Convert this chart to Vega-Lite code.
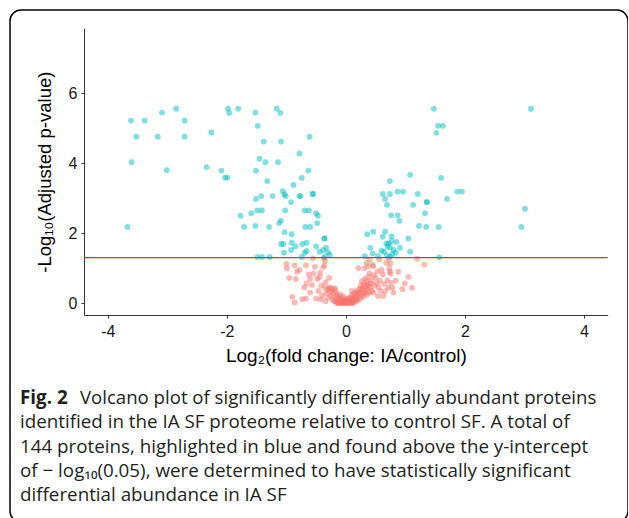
{
"$schema": "https://vega.github.io/schema/vega-lite/v6.json",
"width": 618, "height": 512,
"padding": {"left": 10, "top": 10, "right": 0, "bottom": 0},
"background": "white",
"config": {"view": {"stroke": "#000", "strokeWidth": 1.5, "cornerRadius": 11}, "font": "Liberation Sans"},
"datasets": {
"pts": [
{"fc":-1.0,"p":1.12,"s":"no"},{"fc":-0.99,"p":0.99,"s":"no"},{"fc":-0.95,"p":0.72,"s":"no"},{"fc":-0.86,"p":1.08,"s":"no"},{"fc":-0.9,"p":0.18,"s":"no"},{"fc":-0.86,"p":0.02,"s":"no"},{"fc":-0.84,"p":0.69,"s":"no"},{"fc":-0.82,"p":0.9,"s":"no"},
{"fc":-0.78,"p":0.95,"s":"no"},{"fc":-0.73,"p":0.11,"s":"no"},{"fc":-0.7,"p":0.45,"s":"no"},{"fc":-0.67,"p":1.08,"s":"no"},{"fc":-0.67,"p":0.13,"s":"no"},{"fc":-0.66,"p":0.56,"s":"no"},{"fc":-0.62,"p":0.82,"s":"no"},{"fc":-0.6,"p":0.69,"s":"no"},{"fc":-0.6,"p":0.3,"s":"no"},
{"fc":-0.57,"p":0.52,"s":"no"},{"fc":-0.55,"p":1.28,"s":"no"},{"fc":-0.54,"p":0.85,"s":"no"},{"fc":-0.52,"p":1.04,"s":"no"},{"fc":-0.5,"p":0.13,"s":"no"},{"fc":-0.48,"p":0.69,"s":"no"},{"fc":-0.46,"p":0.35,"s":"no"},{"fc":-0.44,"p":0.75,"s":"no"},{"fc":-0.43,"p":0.87,"s":"no"},{"fc":-0.42,"p":0.11,"s":"no"},{"fc":-0.41,"p":0.5,"s":"no"},{"fc":-0.4,"p":0.22,"s":"no"},
{"fc":-0.38,"p":1.03,"s":"no"},{"fc":-0.37,"p":1.28,"s":"no"},{"fc":-0.36,"p":1.08,"s":"no"},{"fc":-0.35,"p":1.21,"s":"no"},{"fc":-0.35,"p":0.45,"s":"no"},{"fc":-0.34,"p":0.6,"s":"no"},{"fc":-0.34,"p":0.05,"s":"no"},{"fc":-0.33,"p":0.28,"s":"no"},{"fc":-0.31,"p":0.38,"s":"no"},{"fc":-0.3,"p":0.15,"s":"no"},{"fc":-0.29,"p":0.42,"s":"no"},{"fc":-0.28,"p":0.72,"s":"no"},{"fc":-0.27,"p":0.3,"s":"no"},{"fc":-0.26,"p":0.45,"s":"no"},{"fc":-0.25,"p":0.2,"s":"no"},{"fc":-0.24,"p":0.42,"s":"no"},{"fc":-0.23,"p":0.35,"s":"no"},{"fc":-0.22,"p":0.1,"s":"no"},{"fc":-0.21,"p":0.28,"s":"no"},
{"fc":-0.19,"p":0.38,"s":"no"},{"fc":-0.18,"p":0.42,"s":"no"},{"fc":-0.18,"p":0.15,"s":"no"},{"fc":-0.17,"p":0.05,"s":"no"},{"fc":-0.16,"p":0.3,"s":"no"},{"fc":-0.15,"p":0.22,"s":"no"},{"fc":-0.14,"p":0.1,"s":"no"},{"fc":-0.13,"p":0.02,"s":"no"},{"fc":-0.12,"p":0.18,"s":"no"},{"fc":-0.11,"p":0.08,"s":"no"},{"fc":-0.1,"p":0.25,"s":"no"},{"fc":-0.1,"p":0.0,"s":"no"},{"fc":-0.09,"p":0.12,"s":"no"},{"fc":-0.08,"p":0.04,"s":"no"},{"fc":-0.07,"p":0.15,"s":"no"},{"fc":-0.06,"p":0.01,"s":"no"},{"fc":-0.06,"p":0.07,"s":"no"},{"fc":-0.05,"p":0.2,"s":"no"},{"fc":-0.04,"p":0.03,"s":"no"},{"fc":-0.03,"p":0.1,"s":"no"},{"fc":-0.03,"p":0.0,"s":"no"},{"fc":-0.02,"p":0.05,"s":"no"},{"fc":-0.01,"p":0.02,"s":"no"},{"fc":-0.01,"p":0.12,"s":"no"},{"fc":0.0,"p":0.0,"s":"no"},{"fc":-0.15,"p":0.0,"s":"no"},{"fc":-0.2,"p":0.05,"s":"no"},{"fc":-0.12,"p":0.0,"s":"no"},{"fc":-0.08,"p":0.0,"s":"no"},{"fc":-0.05,"p":0.0,"s":"no"},
{"fc":0.0,"p":0.06,"s":"no"},{"fc":0.01,"p":0.02,"s":"no"},{"fc":0.02,"p":0.0,"s":"no"},{"fc":0.02,"p":0.1,"s":"no"},{"fc":0.03,"p":0.04,"s":"no"},{"fc":0.04,"p":0.15,"s":"no"},{"fc":0.05,"p":0.01,"s":"no"},{"fc":0.05,"p":0.07,"s":"no"},{"fc":0.06,"p":0.03,"s":"no"},{"fc":0.07,"p":0.12,"s":"no"},{"fc":0.08,"p":0.0,"s":"no"},{"fc":0.08,"p":0.05,"s":"no"},{"fc":0.09,"p":0.2,"s":"no"},{"fc":0.1,"p":0.02,"s":"no"},{"fc":0.1,"p":0.1,"s":"no"},{"fc":0.11,"p":0.06,"s":"no"},{"fc":0.12,"p":0.15,"s":"no"},{"fc":0.12,"p":0.25,"s":"no"},{"fc":0.13,"p":0.03,"s":"no"},{"fc":0.14,"p":0.09,"s":"no"},{"fc":0.15,"p":0.18,"s":"no"},{"fc":0.15,"p":0.3,"s":"no"},{"fc":0.16,"p":0.12,"s":"no"},{"fc":0.17,"p":0.05,"s":"no"},{"fc":0.17,"p":0.22,"s":"no"},{"fc":0.18,"p":0.35,"s":"no"},{"fc":0.19,"p":0.15,"s":"no"},{"fc":0.2,"p":0.28,"s":"no"},{"fc":0.2,"p":0.08,"s":"no"},{"fc":0.05,"p":0.0,"s":"no"},{"fc":0.12,"p":0.0,"s":"no"},{"fc":0.1,"p":0.35,"s":"no"},
{"fc":0.21,"p":1.0,"s":"no"},{"fc":0.21,"p":0.2,"s":"no"},{"fc":0.22,"p":0.4,"s":"no"},{"fc":0.23,"p":0.32,"s":"no"},{"fc":0.24,"p":0.12,"s":"no"},{"fc":0.25,"p":0.25,"s":"no"},{"fc":0.25,"p":0.5,"s":"no"},{"fc":0.26,"p":0.38,"s":"no"},{"fc":0.27,"p":0.62,"s":"no"},{"fc":0.27,"p":0.2,"s":"no"},{"fc":0.28,"p":0.45,"s":"no"},{"fc":0.29,"p":0.3,"s":"no"},{"fc":0.3,"p":0.55,"s":"no"},{"fc":0.3,"p":0.18,"s":"no"},{"fc":0.31,"p":1.0,"s":"no"},{"fc":0.31,"p":0.4,"s":"no"},{"fc":0.32,"p":0.7,"s":"no"},{"fc":0.32,"p":0.28,"s":"no"},{"fc":0.33,"p":0.5,"s":"no"},{"fc":0.34,"p":0.35,"s":"no"},{"fc":0.35,"p":1.15,"s":"no"},{"fc":0.35,"p":0.62,"s":"no"},{"fc":0.36,"p":0.49,"s":"no"},{"fc":0.36,"p":0.25,"s":"no"},{"fc":0.37,"p":1.05,"s":"no"},{"fc":0.37,"p":0.42,"s":"no"},{"fc":0.38,"p":0.75,"s":"no"},{"fc":0.38,"p":0.55,"s":"no"},{"fc":0.39,"p":0.3,"s":"no"},{"fc":0.4,"p":1.25,"s":"no"},{"fc":0.4,"p":0.85,"s":"no"},
{"fc":0.41,"p":0.45,"s":"no"},{"fc":0.42,"p":0.56,"s":"no"},{"fc":0.43,"p":0.65,"s":"no"},{"fc":0.44,"p":0.35,"s":"no"},{"fc":0.45,"p":1.1,"s":"no"},{"fc":0.46,"p":1.05,"s":"no"},{"fc":0.46,"p":0.3,"s":"no"},{"fc":0.47,"p":0.8,"s":"no"},{"fc":0.48,"p":0.5,"s":"no"},{"fc":0.5,"p":0.72,"s":"no"},{"fc":0.52,"p":0.56,"s":"no"},{"fc":0.53,"p":0.9,"s":"no"},{"fc":0.54,"p":0.2,"s":"no"},{"fc":0.55,"p":0.45,"s":"no"},{"fc":0.56,"p":1.25,"s":"no"},{"fc":0.57,"p":0.64,"s":"no"},{"fc":0.58,"p":0.35,"s":"no"},{"fc":0.6,"p":0.95,"s":"no"},
{"fc":0.62,"p":0.82,"s":"no"},{"fc":0.63,"p":0.2,"s":"no"},{"fc":0.64,"p":0.55,"s":"no"},{"fc":0.66,"p":0.34,"s":"no"},{"fc":0.68,"p":1.15,"s":"no"},{"fc":0.7,"p":0.65,"s":"no"},{"fc":0.71,"p":0.44,"s":"no"},{"fc":0.72,"p":1.27,"s":"no"},{"fc":0.73,"p":1.0,"s":"no"},{"fc":0.74,"p":0.9,"s":"no"},{"fc":0.75,"p":1.14,"s":"no"},{"fc":0.75,"p":0.85,"s":"no"},{"fc":0.76,"p":0.58,"s":"no"},{"fc":0.78,"p":0.44,"s":"no"},{"fc":0.8,"p":0.3,"s":"no"},
{"fc":0.84,"p":0.64,"s":"no"},{"fc":0.88,"p":0.9,"s":"no"},{"fc":0.95,"p":0.4,"s":"no"},{"fc":0.99,"p":0.56,"s":"no"},{"fc":1.05,"p":0.75,"s":"no"},{"fc":1.11,"p":0.44,"s":"no"},{"fc":1.2,"p":1.27,"s":"no"},{"fc":1.32,"p":1.1,"s":"no"},
{"fc":-3.61,"p":5.22,"s":"yes"},{"fc":-3.38,"p":5.22,"s":"yes"},{"fc":-3.09,"p":5.45,"s":"yes"},{"fc":-2.85,"p":5.56,"s":"yes"},{"fc":-2.71,"p":5.22,"s":"yes"},{"fc":-3.52,"p":4.76,"s":"yes"},{"fc":-3.16,"p":4.76,"s":"yes"},{"fc":-2.71,"p":4.76,"s":"yes"},{"fc":-2.26,"p":4.88,"s":"yes"},{"fc":-3.6,"p":4.03,"s":"yes"},{"fc":-3.01,"p":3.8,"s":"yes"},{"fc":-3.67,"p":2.18,"s":"yes"},
{"fc":-1.98,"p":5.56,"s":"yes"},{"fc":-1.96,"p":5.44,"s":"yes"},{"fc":-1.81,"p":5.56,"s":"yes"},{"fc":-1.52,"p":5.45,"s":"yes"},{"fc":-1.16,"p":5.56,"s":"yes"},{"fc":-1.1,"p":5.44,"s":"yes"},{"fc":-1.48,"p":5.07,"s":"yes"},{"fc":-1.38,"p":4.62,"s":"yes"},{"fc":-1.09,"p":4.62,"s":"yes"},{"fc":-0.61,"p":4.76,"s":"yes"},{"fc":-0.78,"p":4.28,"s":"yes"},{"fc":-1.45,"p":4.13,"s":"yes"},{"fc":-1.35,"p":4.03,"s":"yes"},{"fc":-1.14,"p":4.03,"s":"yes"},
{"fc":-2.34,"p":3.89,"s":"yes"},{"fc":-2.09,"p":3.79,"s":"yes"},{"fc":-2.03,"p":3.59,"s":"yes"},{"fc":-1.99,"p":3.59,"s":"yes"},{"fc":-1.51,"p":3.79,"s":"yes"},{"fc":-0.63,"p":3.79,"s":"yes"},{"fc":-0.74,"p":3.58,"s":"yes"},{"fc":-1.32,"p":3.49,"s":"yes"},{"fc":-0.88,"p":3.38,"s":"yes"},{"fc":-1.06,"p":3.2,"s":"yes"},{"fc":-1.03,"p":3.11,"s":"yes"},{"fc":-1.01,"p":3.06,"s":"yes"},{"fc":-0.78,"p":3.06,"s":"yes"},{"fc":-0.76,"p":3.06,"s":"yes"},{"fc":-0.55,"p":3.12,"s":"yes"},{"fc":-0.56,"p":3.12,"s":"yes"},
{"fc":-1.42,"p":3.06,"s":"yes"},{"fc":-1.51,"p":2.98,"s":"yes"},{"fc":-1.23,"p":3.06,"s":"yes"},{"fc":-0.92,"p":2.89,"s":"yes"},{"fc":-1.49,"p":2.65,"s":"yes"},{"fc":-1.41,"p":2.65,"s":"yes"},{"fc":-1.02,"p":2.65,"s":"yes"},{"fc":-0.69,"p":2.65,"s":"yes"},{"fc":-0.62,"p":2.65,"s":"yes"},{"fc":-0.5,"p":2.57,"s":"yes"},{"fc":-0.47,"p":2.5,"s":"yes"},{"fc":-1.77,"p":2.5,"s":"yes"},{"fc":-1.59,"p":2.57,"s":"yes"},{"fc":-1.09,"p":2.36,"s":"yes"},{"fc":-1.12,"p":2.29,"s":"yes"},
{"fc":-1.71,"p":2.18,"s":"yes"},{"fc":-1.52,"p":2.21,"s":"yes"},{"fc":-1.29,"p":2.18,"s":"yes"},{"fc":-0.68,"p":2.18,"s":"yes"},{"fc":-0.6,"p":2.18,"s":"yes"},{"fc":-0.48,"p":2.29,"s":"yes"},{"fc":-1.03,"p":2.03,"s":"yes"},{"fc":-0.91,"p":1.97,"s":"yes"},{"fc":-1.09,"p":1.69,"s":"yes"},{"fc":-1.05,"p":1.69,"s":"yes"},{"fc":-0.91,"p":1.73,"s":"yes"},{"fc":-0.73,"p":1.69,"s":"yes"},{"fc":-0.66,"p":1.73,"s":"yes"},{"fc":-0.36,"p":1.85,"s":"yes"},{"fc":-0.36,"p":1.85,"s":"yes"},
{"fc":-0.38,"p":1.52,"s":"yes"},{"fc":-0.33,"p":1.58,"s":"yes"},{"fc":-0.44,"p":1.47,"s":"yes"},{"fc":-0.92,"p":1.52,"s":"yes"},{"fc":-1.04,"p":1.44,"s":"yes"},{"fc":-0.69,"p":1.44,"s":"yes"},{"fc":-0.66,"p":1.49,"s":"yes"},{"fc":-0.27,"p":1.38,"s":"yes"},{"fc":-0.36,"p":1.33,"s":"yes"},{"fc":-1.49,"p":1.32,"s":"yes"},{"fc":-1.41,"p":1.32,"s":"yes"},{"fc":-1.28,"p":1.32,"s":"yes"},{"fc":-0.74,"p":1.32,"s":"yes"},
{"fc":1.48,"p":5.56,"s":"yes"},{"fc":3.11,"p":5.56,"s":"yes"},{"fc":1.55,"p":5.07,"s":"yes"},{"fc":1.63,"p":5.07,"s":"yes"},{"fc":1.52,"p":4.87,"s":"yes"},{"fc":1.08,"p":3.67,"s":"yes"},{"fc":0.74,"p":3.49,"s":"yes"},{"fc":1.6,"p":3.58,"s":"yes"},{"fc":0.62,"p":3.12,"s":"yes"},{"fc":0.74,"p":3.12,"s":"yes"},{"fc":0.87,"p":3.19,"s":"yes"},{"fc":0.96,"p":3.19,"s":"yes"},{"fc":1.21,"p":3.12,"s":"yes"},
{"fc":0.66,"p":2.98,"s":"yes"},{"fc":0.69,"p":2.81,"s":"yes"},{"fc":1.13,"p":2.81,"s":"yes"},{"fc":1.36,"p":2.89,"s":"yes"},{"fc":1.36,"p":2.89,"s":"yes"},{"fc":1.7,"p":2.98,"s":"yes"},{"fc":1.87,"p":3.19,"s":"yes"},{"fc":1.95,"p":3.19,"s":"yes"},{"fc":3.01,"p":2.7,"s":"yes"},{"fc":2.95,"p":2.18,"s":"yes"},{"fc":0.76,"p":2.51,"s":"yes"},{"fc":0.87,"p":2.51,"s":"yes"},{"fc":0.9,"p":2.35,"s":"yes"},{"fc":1.33,"p":2.57,"s":"yes"},
{"fc":1.23,"p":2.21,"s":"yes"},{"fc":1.35,"p":2.18,"s":"yes"},{"fc":1.56,"p":2.18,"s":"yes"},{"fc":0.36,"p":1.97,"s":"yes"},{"fc":0.46,"p":2.04,"s":"yes"},{"fc":0.62,"p":1.9,"s":"yes"},{"fc":0.66,"p":2.04,"s":"yes"},{"fc":0.77,"p":1.91,"s":"yes"},{"fc":1.05,"p":1.85,"s":"yes"},{"fc":0.41,"p":1.58,"s":"yes"},{"fc":0.68,"p":1.71,"s":"yes"},{"fc":0.72,"p":1.71,"s":"yes"},{"fc":0.77,"p":1.77,"s":"yes"},
{"fc":0.74,"p":1.6,"s":"yes"},{"fc":0.8,"p":1.52,"s":"yes"},{"fc":0.91,"p":1.58,"s":"yes"},{"fc":0.64,"p":1.47,"s":"yes"},{"fc":0.84,"p":1.44,"s":"yes"},{"fc":1.08,"p":1.47,"s":"yes"},{"fc":0.54,"p":1.35,"s":"yes"},{"fc":0.69,"p":1.37,"s":"yes"},{"fc":0.74,"p":1.33,"s":"yes"},{"fc":0.32,"p":1.34,"s":"yes"},{"fc":1.57,"p":1.31,"s":"yes"},
{"fc":0.7,"p":1.62,"s":"yes"},{"fc":0.6,"p":1.5,"s":"yes"},{"fc":0.78,"p":1.4,"s":"yes"},{"fc":-0.5,"p":1.62,"s":"yes"},{"fc":-0.3,"p":1.45,"s":"yes"},{"fc":0.45,"p":1.42,"s":"yes"},{"fc":0.85,"p":1.75,"s":"yes"},{"fc":-0.85,"p":1.62,"s":"yes"}
],
"cap": [
{"line": 1, "part": "bold", "text": "Fig. 2"},
{"line": 1, "part": "lead", "text": "Volcano plot of significantly differentially abundant proteins"},
{"line": 2, "part": "body", "text": "identified in the IA SF proteome relative to control SF. A total of"},
{"line": 3, "part": "body", "text": "144 proteins, highlighted in blue and found above the y-intercept"},
{"line": 4, "part": "body", "text": "of − log₁₀(0.05), were determined to have statistically significant"},
{"line": 5, "part": "body", "text": "differential abundance in IA SF"}
]
},
"layer": [
{
"layer": [
{
"data": {"name": "pts"},
"mark": {"type": "circle", "size": 34, "opacity": 0.5},
"encoding": {
"x": {"field": "fc", "type": "quantitative",
"scale": {"domain": [-4.4, 4.4], "range": [74, 597.7], "nice": false, "zero": false},
"axis": {"title": "Log₂(fold change: IA/control)", "offset": -207, "values": [-4, -2, 0, 2, 4], "format": "d", "labelExpr": "replace(datum.label, '−', '-')", "grid": false,
"domainColor": "#333", "tickColor": "#333", "tickSize": 3, "labelFontSize": 16, "labelColor": "#1a1a1a", "labelPadding": 5,
"titleFontSize": 19, "titleFontWeight": "normal", "titleColor": "#000", "titlePadding": 7}},
"y": {"field": "p", "type": "quantitative",
"scale": {"domain": [-0.34, 7.86], "range": [305, 18.3], "nice": false, "zero": false},
"axis": {"title": "-Log₁₀(Adjusted p-value)", "offset": -74, "values": [0, 2, 4, 6], "format": "d", "grid": false,
"domainColor": "#333", "tickColor": "#333", "tickSize": 3, "labelFontSize": 16, "labelColor": "#1a1a1a", "labelPadding": 4,
"titleFontSize": 18.5, "titleFontWeight": "normal", "titleColor": "#000", "titlePadding": 14}},
"color": {"field": "s", "type": "nominal", "scale": {"domain": ["no", "yes"], "range": ["#F8766D", "#00BFC4"]}, "legend": null}
}
},
{
"data": {"values": [{}]},
"mark": {"type": "rule", "color": "#E0302A", "strokeWidth": 1.2},
"encoding": {
"y": {"datum": 1.30103, "type": "quantitative"},
"x": {"datum": -4.4, "type": "quantitative"},
"x2": {"datum": 4.4}
}
}
]
},
{
"data": {"name": "cap"},
"layer": [
{
"transform": [{"filter": "datum.part == 'bold'"}],
"mark": {"type": "text", "align": "left", "baseline": "middle", "font": "Open Sans", "fontSize": 18.8, "fontWeight": "bold", "color": "#231f20"},
"encoding": {
"x": {"value": 10},
"y": {"field": "line", "type": "ordinal", "scale": {"type": "point", "domain": [1, 2, 3, 4, 5], "range": [388, 485], "padding": 0}, "axis": null},
"text": {"field": "text"}
}
},
{
"transform": [{"filter": "datum.part == 'lead'"}],
"mark": {"type": "text", "align": "left", "baseline": "middle", "font": "Open Sans", "fontSize": 18.6, "color": "#231f20", "dx": 60},
"encoding": {
"x": {"value": 10},
"y": {"field": "line", "type": "ordinal", "scale": {"type": "point", "domain": [1, 2, 3, 4, 5], "range": [388, 485], "padding": 0}, "axis": null},
"text": {"field": "text"}
}
},
{
"transform": [{"filter": "datum.part == 'body'"}],
"mark": {"type": "text", "align": "left", "baseline": "middle", "font": "Open Sans", "fontSize": 18.8, "color": "#231f20"},
"encoding": {
"x": {"value": 10},
"y": {"field": "line", "type": "ordinal", "scale": {"type": "point", "domain": [1, 2, 3, 4, 5], "range": [388, 485], "padding": 0}, "axis": null},
"text": {"field": "text"}
}
}
]
}
],
"resolve": {"scale": {"y": "independent", "x": "independent"}}
}
